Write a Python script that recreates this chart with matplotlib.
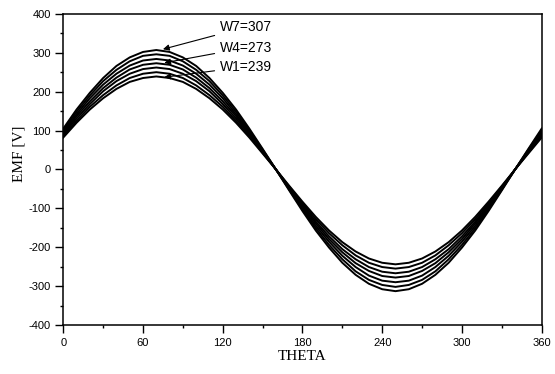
import numpy as np
import matplotlib
matplotlib.use('Agg')
import matplotlib.pyplot as plt
from matplotlib.ticker import MultipleLocator

plt.rcParams['axes.unicode_minus'] = False

# 角度 (deg)
theta = list(range(0, 361, 10))

# 各曲线 EMF 值
emf_w1 = [82, 120, 154, 183, 207, 225, 235, 239, 235, 225, 207, 183, 154, 120, 82, 41, 0,
          -42, -83, -122, -157, -187, -211, -229, -240, -244, -240, -229, -211, -187, -157, -122, -83, -42, 0, 41, 82]
emf_w2 = [86, 125, 161, 191, 216, 235, 246, 250, 246, 235, 216, 191, 161, 125, 86, 43, 0,
          -44, -87, -128, -164, -195, -221, -240, -251, -255, -251, -240, -221, -195, -164, -128, -87, -44, 0, 43, 86]
emf_w3 = [90, 131, 168, 201, 227, 246, 258, 262, 258, 246, 227, 201, 168, 131, 90, 45, 0,
          -46, -91, -134, -172, -205, -231, -251, -263, -267, -263, -251, -231, -205, -172, -134, -91, -46, 0, 45, 90]
emf_w4 = [93, 137, 175, 209, 236, 257, 269, 273, 269, 257, 236, 209, 175, 137, 93, 47, 0,
          -48, -95, -139, -179, -213, -241, -261, -274, -278, -274, -261, -241, -213, -179, -139, -95, -48, 0, 47, 93]
emf_w5 = [97, 142, 183, 218, 246, 267, 280, 284, 280, 267, 246, 218, 183, 142, 97, 49, 0,
          -50, -99, -145, -186, -222, -251, -273, -286, -290, -286, -273, -251, -222, -186, -145, -99, -50, 0, 49, 97]
emf_w6 = [101, 148, 190, 227, 256, 278, 292, 296, 292, 278, 256, 227, 190, 148, 101, 51, 0,
          -52, -103, -151, -194, -231, -262, -284, -297, -302, -297, -284, -262, -231, -194, -151, -103, -52, 0, 51, 101]
emf_w7 = [105, 154, 197, 235, 266, 288, 302, 307, 302, 288, 266, 235, 197, 154, 105, 53, 0,
          -54, -107, -157, -201, -240, -271, -294, -308, -313, -308, -294, -271, -240, -201, -157, -107, -54, 0, 53, 105]

curves = [emf_w1, emf_w2, emf_w3, emf_w4, emf_w5, emf_w6, emf_w7]

# 标注: 文字, 箭头指向点, 文字位置
labels = ['W7=307', 'W4=273', 'W1=239']
label_tips = [(75, 309), (76, 274), (76, 237)]
label_pos = [(118, 366), (118, 313), (118, 264)]

fig = plt.figure(figsize=(5.55, 3.74), dpi=100)
ax = fig.add_axes([0.114, 0.131, 0.862, 0.832])

for emf in curves:
    ax.plot(theta, emf, color='black', linewidth=1.4)

for text, tip, pos in zip(labels, label_tips, label_pos):
    ax.annotate(text, xy=tip, xytext=pos, fontsize=10, family='Liberation Sans',
                ha='left', va='center',
                arrowprops=dict(arrowstyle='-|>', color='black', lw=0.8,
                                mutation_scale=9, shrinkA=2, shrinkB=0))

ax.set_xlim(0, 360)
ax.set_ylim(-400, 400)
ax.xaxis.set_major_locator(MultipleLocator(60))
ax.xaxis.set_minor_locator(MultipleLocator(30))
ax.yaxis.set_major_locator(MultipleLocator(100))
ax.yaxis.set_minor_locator(MultipleLocator(50))
ax.tick_params(which='major', direction='out', length=6, width=1, pad=3, labelsize=8)
ax.tick_params(which='minor', direction='out', length=2.5, width=1)
for lab in ax.get_xticklabels() + ax.get_yticklabels():
    lab.set_family('Liberation Sans')

for sp in ax.spines.values():
    sp.set_linewidth(1.1)

ax.set_xlabel('THETA', fontsize=11, family='Liberation Serif', labelpad=2)
ax.set_ylabel('EMF [V]', fontsize=11, family='Liberation Serif')
ax.yaxis.set_label_coords(-0.078, 0.55)

fig.savefig('out.png', dpi=100)
